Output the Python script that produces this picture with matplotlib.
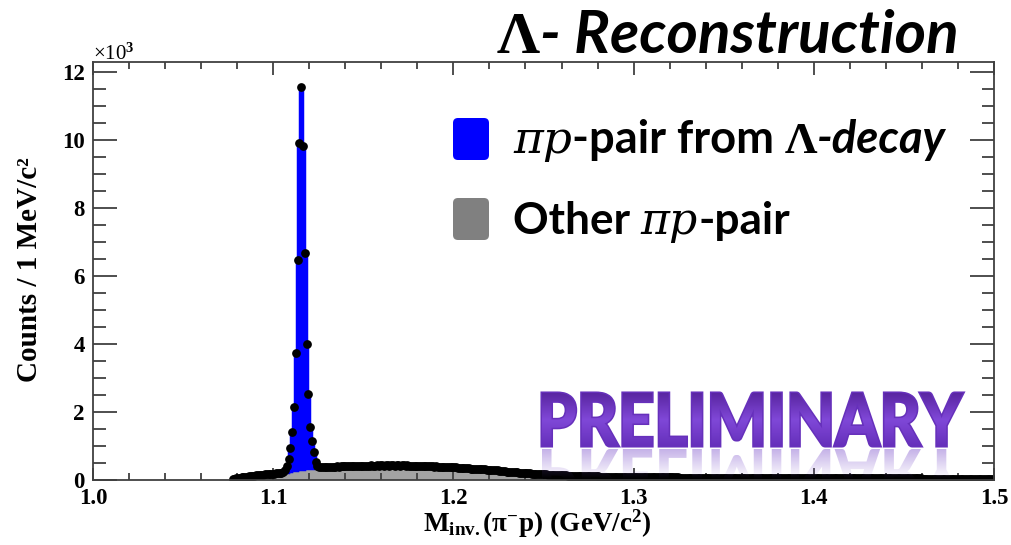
import numpy as np
import matplotlib
matplotlib.use('Agg')
import matplotlib.pyplot as plt
from matplotlib.patches import FancyBboxPatch, PathPatch
from matplotlib.textpath import TextPath
from matplotlib.font_manager import FontProperties
from matplotlib.transforms import Affine2D
from matplotlib.colors import LinearSegmentedColormap
from matplotlib.ticker import MultipleLocator

# invariant mass histogram, 1 MeV bins, counts in units of 10^3
bin_start = 1.070
bin_width = 0.001

# other pi-p pairs (grey), one row = 10 bins
background = np.array([
    0, 0, 0, 0, 0, 0, 0, 0.02, 0.04, 0.05,                         # 1.07
    0.06, 0.07, 0.08, 0.09, 0.10, 0.10, 0.11, 0.12, 0.12, 0.13,    # 1.08
    0.14, 0.14, 0.15, 0.16, 0.16, 0.17, 0.17, 0.18, 0.18, 0.19,    # 1.09
    0.19, 0.20, 0.20, 0.21, 0.22, 0.23, 0.24, 0.25, 0.26, 0.27,    # 1.10
    0.28, 0.29, 0.30, 0.31, 0.32, 0.33, 0.33, 0.34, 0.35, 0.35,    # 1.11
    0.36, 0.36, 0.37, 0.37, 0.37, 0.38, 0.38, 0.38, 0.38, 0.39,    # 1.12
    0.38, 0.39, 0.39, 0.39, 0.39, 0.40, 0.39, 0.40, 0.40, 0.40,    # 1.13
    0.40, 0.41, 0.40, 0.41, 0.41, 0.41, 0.42, 0.41, 0.41, 0.42,    # 1.14
    0.42, 0.41, 0.42, 0.42, 0.43, 0.42, 0.42, 0.43, 0.42, 0.43,    # 1.15
    0.43, 0.42, 0.43, 0.43, 0.42, 0.43, 0.43, 0.42, 0.43, 0.43,    # 1.16
    0.42, 0.43, 0.43, 0.42, 0.43, 0.42, 0.42, 0.42, 0.42, 0.41,    # 1.17
    0.42, 0.41, 0.41, 0.41, 0.40, 0.41, 0.40, 0.40, 0.40, 0.39,    # 1.18
    0.40, 0.39, 0.39, 0.38, 0.39, 0.38, 0.38, 0.37, 0.38, 0.37,    # 1.19
    0.37, 0.37, 0.36, 0.36, 0.35, 0.35, 0.35, 0.34, 0.34, 0.33,    # 1.20
    0.33, 0.33, 0.32, 0.32, 0.32, 0.31, 0.31, 0.31, 0.30, 0.30,    # 1.21
    0.30, 0.29, 0.29, 0.28, 0.28, 0.27, 0.27, 0.26, 0.26, 0.25,    # 1.22
    0.25, 0.25, 0.24, 0.24, 0.23, 0.23, 0.22, 0.22, 0.21, 0.21,    # 1.23
    0.21, 0.20, 0.20, 0.19, 0.19, 0.19, 0.18, 0.18, 0.18, 0.17,    # 1.24
    0.17, 0.17, 0.16, 0.16, 0.16, 0.15, 0.15, 0.15, 0.15, 0.14,    # 1.25
    0.14, 0.14, 0.14, 0.13, 0.13, 0.13, 0.13, 0.13, 0.12, 0.12,    # 1.26
    0.12, 0.12, 0.12, 0.12, 0.11, 0.11, 0.11, 0.11, 0.11, 0.11,    # 1.27
    0.11, 0.10, 0.10, 0.10, 0.10, 0.10, 0.10, 0.10, 0.10, 0.10,    # 1.28
    0.10, 0.09, 0.09, 0.09, 0.09, 0.09, 0.09, 0.09, 0.09, 0.09,    # 1.29
    0.09, 0.09, 0.09, 0.09, 0.09, 0.08, 0.08, 0.08, 0.08, 0.08,    # 1.30
    0.08, 0.08, 0.08, 0.08, 0.08, 0.08, 0.08, 0.08, 0.08, 0.08,    # 1.31
    0.08, 0.08, 0.08, 0.08, 0.08, 0.07, 0.07, 0.07, 0.07, 0.07,    # 1.32
    0.07, 0.07, 0.07, 0.07, 0.07, 0.07, 0.07, 0.07, 0.07, 0.07,    # 1.33
    0.07, 0.07, 0.07, 0.07, 0.07, 0.07, 0.07, 0.07, 0.07, 0.07,    # 1.34
    0.07, 0.07, 0.07, 0.07, 0.07, 0.06, 0.06, 0.06, 0.06, 0.06,    # 1.35
    0.06, 0.06, 0.06, 0.06, 0.06, 0.06, 0.06, 0.06, 0.06, 0.06,    # 1.36
    0.06, 0.06, 0.06, 0.06, 0.06, 0.06, 0.06, 0.06, 0.06, 0.06,    # 1.37
    0.06, 0.06, 0.06, 0.06, 0.06, 0.06, 0.06, 0.06, 0.06, 0.06,    # 1.38
    0.06, 0.06, 0.06, 0.06, 0.06, 0.06, 0.06, 0.06, 0.06, 0.06,    # 1.39
    0.06, 0.06, 0.06, 0.06, 0.06, 0.06, 0.06, 0.06, 0.06, 0.06,    # 1.40
    0.05, 0.05, 0.05, 0.05, 0.05, 0.05, 0.05, 0.05, 0.05, 0.05,    # 1.41
    0.05, 0.05, 0.05, 0.05, 0.05, 0.05, 0.05, 0.05, 0.05, 0.05,    # 1.42
    0.05, 0.05, 0.05, 0.05, 0.05, 0.05, 0.05, 0.05, 0.05, 0.05,    # 1.43
    0.05, 0.05, 0.05, 0.05, 0.05, 0.05, 0.05, 0.05, 0.05, 0.05,    # 1.44
    0.05, 0.05, 0.05, 0.05, 0.05, 0.05, 0.05, 0.05, 0.05, 0.05,    # 1.45
    0.04, 0.04, 0.04, 0.04, 0.04, 0.04, 0.04, 0.04, 0.04, 0.04,    # 1.46
    0.04, 0.04, 0.04, 0.04, 0.04, 0.04, 0.04, 0.04, 0.04, 0.04,    # 1.47
    0.04, 0.04, 0.04, 0.04, 0.04, 0.04, 0.04, 0.04, 0.04, 0.04,    # 1.48
    0.04, 0.04, 0.04, 0.04, 0.04, 0.04, 0.04, 0.04, 0.04, 0.04,    # 1.49
])

# total counts in the Lambda peak, bins starting at 1.106
peak_start = 1.106
peak_total = [0.30, 0.41, 0.63, 0.93, 1.41, 2.14, 3.74, 6.46, 9.92, 11.57,
              9.84, 6.69, 4.01, 2.54, 1.55, 1.15, 0.83, 0.54, 0.42]

edges = bin_start + bin_width * np.arange(len(background) + 1)
centers = 0.5 * (edges[:-1] + edges[1:])
i0 = int(round((peak_start - bin_start) / bin_width))
signal = np.zeros_like(background)
signal[i0:i0 + len(peak_total)] = np.array(peak_total) - background[i0:i0 + len(peak_total)]
total = background + signal

plt.rcParams['font.family'] = ['Liberation Serif', 'DejaVu Serif']
plt.rcParams['font.weight'] = 'bold'
plt.rcParams['mathtext.fontset'] = 'custom'
plt.rcParams['mathtext.rm'] = 'Liberation Serif:bold'
plt.rcParams['mathtext.it'] = 'Liberation Serif:bold'
plt.rcParams['mathtext.bf'] = 'Liberation Serif:bold'

W, H = 1011, 545
fig = plt.figure(figsize=(W / 100, H / 100), dpi=100)
ax = fig.add_axes([93 / W, 65 / H, 901 / W, 418 / H])

ax.stairs(background, edges, fill=True, color='#a3a3a3', lw=0)
ax.stairs(total, edges, baseline=background, fill=True, color='#0000ff', lw=0)
ax.stairs(total[i0:i0 + len(peak_total)], edges[i0:i0 + len(peak_total) + 1],
          baseline=background[i0:i0 + len(peak_total)], color='#0000ff', lw=2.5)
shown = total > 0
ax.plot(centers[shown], total[shown], 'o', color='black', ms=6.3, mew=0)

ax.set_xlim(1.0, 1.5)
ax.set_ylim(0, 12.3)
ax.xaxis.set_major_locator(MultipleLocator(0.1))
ax.xaxis.set_minor_locator(MultipleLocator(0.02))
ax.yaxis.set_major_locator(MultipleLocator(2))
ax.yaxis.set_minor_locator(MultipleLocator(0.5))
ax.xaxis.set_major_formatter(plt.FuncFormatter(lambda v, p: '%.1f' % v))
ax.tick_params(which='both', direction='in', top=True, right=True,
               color='#404040', width=1.3, labelsize=16.5)
ax.tick_params(axis='x', which='major', length=9, pad=6)
ax.tick_params(axis='x', which='minor', length=5)
ax.tick_params(axis='y', which='major', length=17, pad=6)
ax.tick_params(axis='y', which='minor', length=9)
for sp in ax.spines.values():
    sp.set_color('#404040')
    sp.set_linewidth(1.3)

# overlay in image pixel coordinates (y down)
ov = fig.add_axes([0, 0, 1, 1], zorder=5)
ov.set_facecolor('none')
ov.axis('off')
ov.set_xlim(0, W)
ov.set_ylim(H, 0)

fig.canvas.draw()
renderer = fig.canvas.get_renderer()

serif_b = dict(family=['Liberation Serif'], weight='bold')
serif_i = dict(family=['DejaVu Serif'], style='italic', weight='normal')
sans_b = dict(family=['Lato', 'DejaVu Sans'], weight='bold')
sans_bi = dict(family=['Lato', 'DejaVu Sans'], weight='bold', style='italic')


def put_pieces(x, y, pieces, size, x_end):
    # measure once, then scale the font so the line ends at x_end
    probe = [ov.text(0, 0, s, fontsize=size, **kw) for s, kw in pieces]
    width = sum(t.get_window_extent(renderer).width for t in probe)
    for t in probe:
        t.remove()
    size = size * (x_end - x) / width
    for s, kw in pieces:
        t = ov.text(x, y, s, va='baseline', ha='left', fontsize=size, **kw)
        x += t.get_window_extent(renderer).width


put_pieces(497, 53, [('Λ', serif_b), ('- Reconstruction', sans_bi)], 37, 958)

ov.add_patch(FancyBboxPatch((453, 118), 36, 42, boxstyle='round,pad=0,rounding_size=5',
                            fc='#0000ff', ec='none'))
ov.add_patch(FancyBboxPatch((453, 198), 36, 42, boxstyle='round,pad=0,rounding_size=5',
                            fc='#808080', ec='none'))
put_pieces(513, 153, [('πp', serif_i), ('-pair from ', sans_b), ('Λ', serif_b),
                      ('-decay', sans_bi)], 25, 947)
put_pieces(513, 234, [('Other ', sans_b), ('πp', serif_i), ('-pair', sans_b)], 25, 790)

# axis texts
ov.text(30, 270, 'Counts / 1 MeV/c²', rotation=90, ha='center', va='center',
        fontsize=21, **serif_b)
ov.text(537, 532, r'$\mathrm{M_{inv.}(\pi^{-}p)\ (GeV/c^{2})}$', ha='center', va='baseline',
        fontsize=19.5)
ov.text(93, 60, '×10$^{3}$', ha='left', va='baseline', fontsize=15,
        family=['Liberation Serif'], weight='normal')

# PRELIMINARY word art
fp = FontProperties(family=['Lato', 'DejaVu Sans'], weight='black')
tp = TextPath((0, 0), 'PRELIMINARY', size=100, prop=fp)
ext = tp.get_extents()
sx = (963 - 542) / ext.width
sy = (446 - 393) / ext.height
tr_main = Affine2D().translate(-ext.x0, -ext.y0).scale(sx, -sy).translate(542, 446) + ov.transData
tr_refl = Affine2D().translate(-ext.x0, -ext.y0).scale(sx, sy).translate(542, 449) + ov.transData

# thicker glyph body under the gradient
ov.add_patch(PathPatch(tp, transform=tr_main, fc='#6630bb', ec='#6630bb', lw=2.2, zorder=5.5))
clip_main = PathPatch(tp, transform=tr_main, fc='none', ec='none')
clip_refl = PathPatch(tp, transform=tr_refl, fc='none', ec='none')
ov.add_patch(clip_main)
ov.add_patch(clip_refl)

purple = LinearSegmentedColormap.from_list('pr', ['#5a26a2', '#8048d8', '#6630bb'])
grad = np.linspace(0, 1, 64).reshape(-1, 1)
im = ov.imshow(grad, extent=[540, 965, 446, 393], cmap=purple, aspect='auto', zorder=6)
im.set_clip_path(clip_main)

refl = np.zeros((64, 1, 4))
refl[:, 0, 0] = 0.50
refl[:, 0, 1] = 0.33
refl[:, 0, 2] = 0.80
refl[:, 0, 3] = np.clip(0.45 - np.linspace(0, 1, 64) * 0.8, 0, None)
im2 = ov.imshow(refl, extent=[540, 965, 503, 449], aspect='auto', zorder=6)
im2.set_clip_path(clip_refl)

ov.set_xlim(0, W)
ov.set_ylim(H, 0)

fig.savefig('out.png', dpi=100)
